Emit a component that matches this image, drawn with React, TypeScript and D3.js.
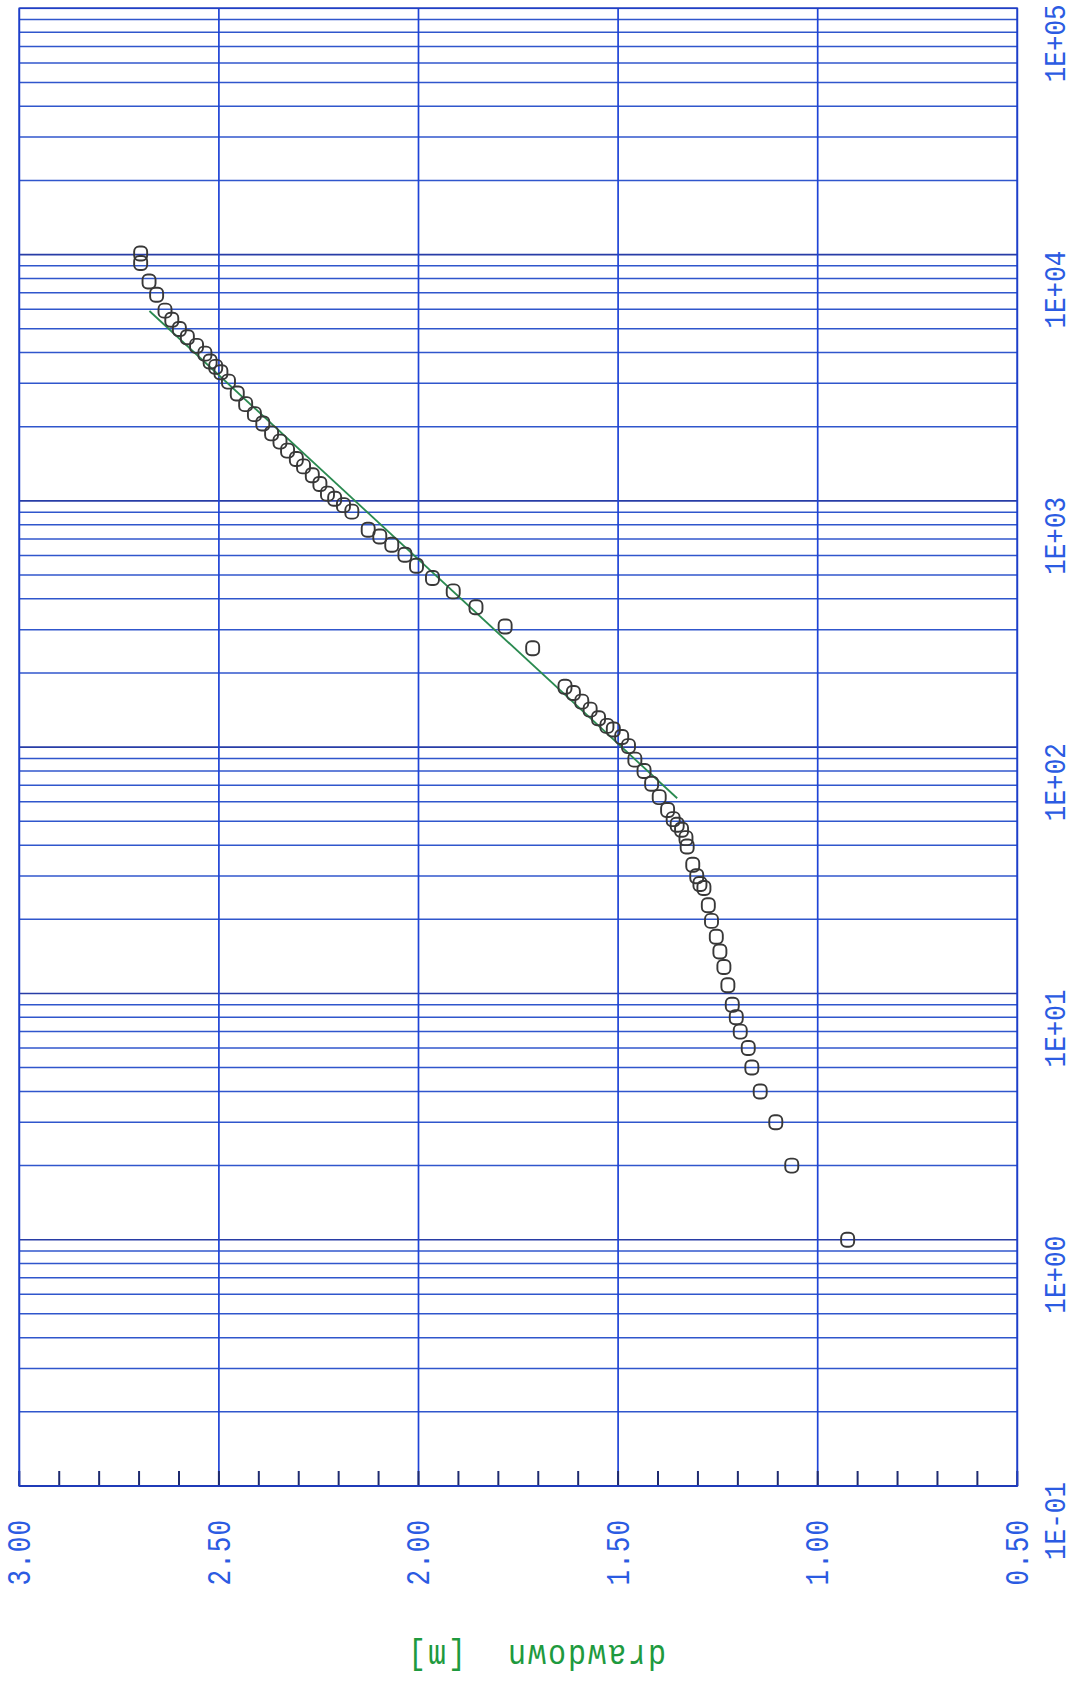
import { useRef, useEffect } from 'react';
import * as d3 from 'd3';

const times = [10100, 9240, 7780, 6870, 5920, 5440, 4990, 4620, 4260, 3960, 3680, 3500, 3330, 3050, 2730, 2470, 2250, 2060, 1880, 1740, 1600, 1480, 1380, 1270, 1170, 1070, 1020, 961, 904, 763, 717, 663, 604, 545, 486, 429, 370, 309, 252, 176, 166, 153, 142, 131, 122, 118, 110, 101, 89, 80, 71, 62.7, 55.6, 51, 48.4, 46.2, 42.7, 39.5, 33.3, 29.9, 27.8, 26.8, 22.8, 19.7, 17.0, 14.8, 12.8, 10.8, 9, 8, 7, 6, 5, 4, 3, 2, 1];
const drawdowns = [2.696, 2.696, 2.675, 2.656, 2.635, 2.618, 2.599, 2.579, 2.556, 2.535, 2.522, 2.508, 2.495, 2.476, 2.454, 2.433, 2.411, 2.39, 2.368, 2.347, 2.328, 2.306, 2.288, 2.266, 2.247, 2.228, 2.21, 2.188, 2.167, 2.126, 2.097, 2.067, 2.034, 2.005, 1.965, 1.913, 1.856, 1.783, 1.714, 1.633, 1.612, 1.591, 1.57, 1.549, 1.528, 1.512, 1.491, 1.474, 1.458, 1.435, 1.416, 1.397, 1.376, 1.362, 1.352, 1.341, 1.33, 1.327, 1.313, 1.303, 1.295, 1.285, 1.274, 1.266, 1.254, 1.245, 1.235, 1.225, 1.214, 1.204, 1.194, 1.174, 1.165, 1.144, 1.105, 1.065, 0.925];

// straight-line fit (semi-log)
const fitTimes = [62, 5900];
const fitDrawdowns = [1.352, 2.674];

const drawdownTicks = [3.0, 2.5, 2.0, 1.5, 1.0, 0.5];
const decades = [0.1, 1, 10, 100, 1000, 10000, 100000];
const decadeLabels = ['1E-01', '1E+00', '1E+01', '1E+02', '1E+03', '1E+04', '1E+05'];

export default function App() {
  const svgRef = useRef<SVGSVGElement>(null);

  useEffect(() => {
    if (!svgRef.current) return;
    const svg = d3.select(svgRef.current);
    svg.selectAll('*').remove();

    const left = 19.3, right = 1017.3, top = 8.3, bottom = 1486;
    const font = '"Liberation Mono", "DejaVu Sans Mono", monospace';

    const x = d3.scaleLinear().domain([3.0, 0.5]).range([left, right]);
    const y = d3.scaleLog().domain([0.1, 1e5]).range([bottom, top]);

    // log grid (horizontal)
    const minor: number[] = [];
    decades.slice(0, -1).forEach(d => {
      for (let k = 2; k <= 9; k++) minor.push(k * d);
    });
    svg.append('g')
      .selectAll('line')
      .data(minor)
      .enter()
      .append('line')
      .attr('x1', left)
      .attr('x2', right)
      .attr('y1', d => y(d))
      .attr('y2', d => y(d))
      .attr('stroke', '#3056cc')
      .attr('stroke-width', 1.5);

    svg.append('g')
      .selectAll('line')
      .data(decades)
      .enter()
      .append('line')
      .attr('x1', left)
      .attr('x2', right)
      .attr('y1', d => y(d))
      .attr('y2', d => y(d))
      .attr('stroke', '#283da6')
      .attr('stroke-width', 1.6);

    // vertical grid at major drawdown values
    svg.append('g')
      .selectAll('line')
      .data(drawdownTicks)
      .enter()
      .append('line')
      .attr('x1', d => x(d))
      .attr('x2', d => x(d))
      .attr('y1', top)
      .attr('y2', bottom)
      .attr('stroke', '#1f44d6')
      .attr('stroke-width', 1.7);

    // bottom axis line + minor ticks
    svg.append('line')
      .attr('x1', left).attr('x2', right)
      .attr('y1', bottom).attr('y2', bottom)
      .attr('stroke', '#25307a')
      .attr('stroke-width', 2);

    const tickVals = d3.range(0, 26).map(i => 3.0 - i * 0.1);
    svg.append('g')
      .selectAll('line')
      .data(tickVals)
      .enter()
      .append('line')
      .attr('x1', d => x(d))
      .attr('x2', d => x(d))
      .attr('y1', bottom)
      .attr('y2', bottom - 15)
      .attr('stroke', '#1e2a6e')
      .attr('stroke-width', 2);

    // bottom tick labels (rotated)
    svg.append('g')
      .selectAll('text')
      .data(drawdownTicks)
      .enter()
      .append('text')
      .attr('transform', d => `translate(${x(d)},1519) rotate(-90) scale(1,1.25)`)
      .attr('text-anchor', 'end')
      .attr('dy', '0.33em')
      .attr('font-family', font)
      .attr('font-size', 26)
      .attr('letter-spacing', 1)
      .attr('fill', '#2b5be2')
      .text(d => d.toFixed(2));

    // right tick labels (rotated)
    svg.append('g')
      .selectAll('text')
      .data(decades)
      .enter()
      .append('text')
      .attr('transform', d => `translate(1056,${y(d) - 4}) rotate(-90) scale(1,1.1)`)
      .attr('text-anchor', 'end')
      .attr('dy', '0.33em')
      .attr('font-family', font)
      .attr('font-size', 26)
      .attr('fill', '#2b5be2')
      .text((d, i) => decadeLabels[i]);

    // axis title, upside down
    svg.append('text')
      .attr('transform', 'translate(536,1656) rotate(180) scale(1,1.15)')
      .attr('text-anchor', 'middle')
      .attr('dy', '0.33em')
      .attr('font-family', font)
      .attr('font-size', 30)
      .attr('letter-spacing', 2)
      .attr('fill', '#1e9a3e')
      .style('white-space', 'pre')
      .text('drawdown  [m]');

    // fit line
    const line = d3.line<number>()
      .x((d, i) => x(fitDrawdowns[i]))
      .y(d => y(d));
    svg.append('path')
      .attr('d', line(fitTimes))
      .attr('fill', 'none')
      .attr('stroke', '#2a8a50')
      .attr('stroke-width', 1.8);

    // data markers
    svg.append('g')
      .selectAll('rect')
      .data(times)
      .enter()
      .append('rect')
      .attr('x', (d, i) => x(drawdowns[i]) - 6.5)
      .attr('y', d => y(d) - 7)
      .attr('width', 13)
      .attr('height', 14)
      .attr('rx', 5)
      .attr('fill', 'none')
      .attr('stroke', '#383838')
      .attr('stroke-width', 1.9);

    // frame
    svg.append('rect')
      .attr('x', left)
      .attr('y', top)
      .attr('width', right - left)
      .attr('height', bottom - top)
      .attr('fill', 'none')
      .attr('stroke', '#1f3fc8')
      .attr('stroke-width', 1.6);
  }, []);

  return (
    <div style={{ position: 'absolute', left: 0, top: 0, background: '#fff' }}>
      <svg ref={svgRef} width={1073} height={1682} style={{ display: 'block' }} />
    </div>
  );
}
